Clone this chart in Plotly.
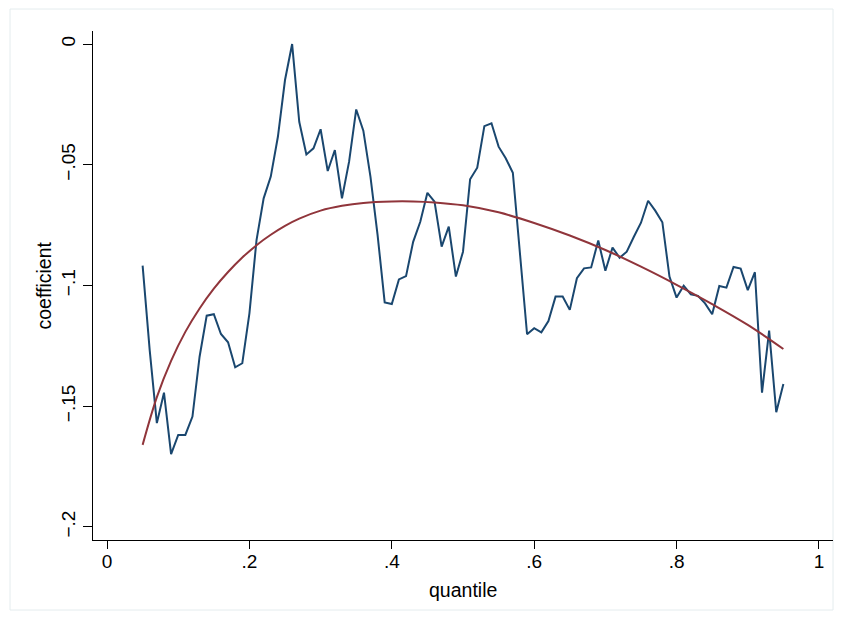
import plotly.graph_objects as go

# quantiles and estimated coefficients (blue line)
quantile = [round(0.05 + 0.01 * i, 2) for i in range(91)]
coefficient = [
    -0.0918, -0.1270, -0.1570, -0.1444, -0.1698, -0.1619, -0.1619, -0.1543, -0.1295, -0.1125,
    -0.1119, -0.1201, -0.1235, -0.1339, -0.1322, -0.1115, -0.0812, -0.0639, -0.0549, -0.0384,
    -0.0149, 0.0000, -0.0322, -0.0457, -0.0432, -0.0353, -0.0526, -0.0439, -0.0639, -0.0487,
    -0.0271, -0.0359, -0.0549, -0.0790, -0.1070, -0.1077, -0.0975, -0.0961, -0.0819, -0.0736,
    -0.0616, -0.0653, -0.0839, -0.0756, -0.0963, -0.0860, -0.0560, -0.0512, -0.0340, -0.0328,
    -0.0425, -0.0473, -0.0533, -0.0866, -0.1202, -0.1177, -0.1194, -0.1147, -0.1046, -0.1046,
    -0.1101, -0.0970, -0.0929, -0.0925, -0.0814, -0.0939, -0.0843, -0.0885, -0.0860, -0.0798,
    -0.0740, -0.0649, -0.0690, -0.0738, -0.0963, -0.1050, -0.1001, -0.1037, -0.1043, -0.1074,
    -0.1119, -0.1002, -0.1009, -0.0923, -0.0930, -0.1019, -0.0945, -0.1444, -0.1187, -0.1525,
    -0.1408,
]

# fitted curve (red line)
fit_quantile = [0.05, 0.07, 0.09, 0.11, 0.13, 0.15, 0.17, 0.19, 0.21, 0.23, 0.25, 0.27, 0.30,
                0.33, 0.36, 0.40, 0.43, 0.46, 0.50, 0.55, 0.60, 0.65, 0.70, 0.75, 0.80, 0.85,
                0.90, 0.95]
fit_value = [-0.1660, -0.1462, -0.1312, -0.1192, -0.1095, -0.1013, -0.0944, -0.0884, -0.0833,
             -0.0790, -0.0753, -0.0723, -0.0690, -0.0670, -0.0658, -0.0652, -0.0652, -0.0656,
             -0.0668, -0.0697, -0.0741, -0.0793, -0.0853, -0.0922, -0.0997, -0.1077, -0.1163,
             -0.1263]

x_tickvals = [0, 0.2, 0.4, 0.6, 0.8, 1]
x_ticktext = ["0", ".2", ".4", ".6", ".8", "1"]
y_tickvals = [0, -0.05, -0.1, -0.15, -0.2]
y_ticktext = ["0", "\u2212.05", "\u2212.1", "\u2212.15", "\u2212.2"]

FONT = "Liberation Sans, Arial, Helvetica, sans-serif"

fig = go.Figure()
fig.add_trace(go.Scatter(x=quantile, y=coefficient, mode="lines",
                         line=dict(color="#1a476f", width=2), showlegend=False))
fig.add_trace(go.Scatter(x=fit_quantile, y=fit_value, mode="lines",
                         line=dict(color="#90353b", width=2, shape="spline", smoothing=1.0),
                         showlegend=False))

# the page body has an 8px margin, so the figure is 835x611 and offset by 8px
fig.update_layout(
    width=835, height=611,
    margin=dict(l=85, r=10, t=23, b=79),
    paper_bgcolor="white", plot_bgcolor="white",
    font=dict(family=FONT, size=19, color="black"),
    xaxis=dict(range=[-0.0197, 1.0197], tickvals=x_tickvals, ticktext=x_ticktext,
               showgrid=False, zeroline=False, showline=True, linecolor="black", linewidth=1,
               ticks="outside", ticklen=8, tickwidth=1, tickcolor="black",
               ticklabelstandoff=-4, tickfont=dict(size=19)),
    yaxis=dict(range=[-0.2054, 0.0054], tickvals=y_tickvals, ticktext=y_ticktext,
               tickangle=-90,
               showgrid=False, zeroline=False, showline=True, linecolor="black", linewidth=1,
               ticks="outside", ticklen=9, tickwidth=1, tickcolor="black",
               tickfont=dict(size=19)),
    annotations=[
        dict(text="quantile", xref="paper", yref="paper", x=0.5, y=0, yshift=-50,
             xanchor="center", yanchor="middle", showarrow=False, font=dict(size=19.5)),
        dict(text="coefficient", xref="paper", yref="paper", x=0, y=0.5, xshift=-50,
             xanchor="center", yanchor="middle", textangle=-90, showarrow=False,
             font=dict(size=19.5)),
    ],
    shapes=[
        dict(type="rect", xref="paper", yref="paper",
             x0=-83 / 740, x1=1.0, y0=-70 / 509, y1=1 + 22 / 509,
             line=dict(color="#e4ecee", width=1), fillcolor="rgba(0,0,0,0)", layer="below"),
    ],
)

fig.write_html("out.html")
